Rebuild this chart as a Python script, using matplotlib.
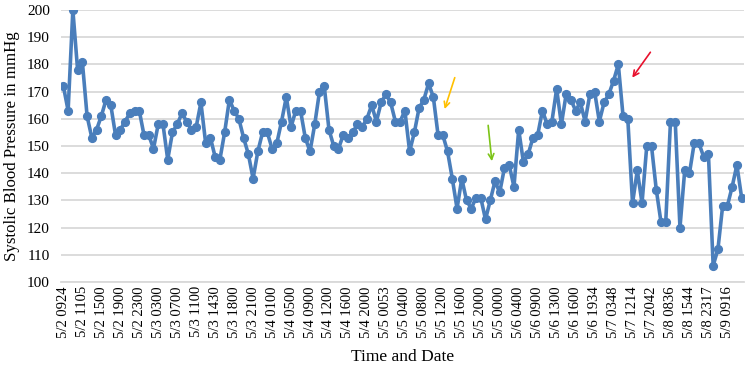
import matplotlib.pyplot as plt

presion = [
    172, 163, 200, 178, 181, 161, 153, 156, 161, 167, 165, 154,
    156, 159, 162, 163, 163, 154, 154, 149, 158, 158, 145, 155,
    158, 162, 159, 156, 157, 166, 151, 153, 146, 145, 155, 167,
    163, 160, 153, 147, 138, 148, 155, 155, 149, 151, 159, 168,
    157, 163, 163, 153, 148, 158, 170, 172, 156, 150, 149, 154,
    153, 155, 158, 157, 160, 165, 159, 166, 169, 166, 159, 159,
    163, 148, 155, 164, 167, 173, 168, 154, 154, 148, 138, 127,
    138, 130, 127, 131, 131, 123, 130, 137, 133, 142, 143, 135,
    156, 144, 147, 153, 154, 163, 158, 159, 171, 158, 169, 167,
    163, 166, 159, 169, 170, 159, 166, 169, 174, 180, 161, 160,
    129, 141, 129, 150, 150, 134, 122, 122, 159, 159, 120, 141,
    140, 151, 151, 146, 147, 106, 112, 128, 128, 135, 143, 131,
]

# one label every 4th reading
etiquetas = [
    "5/2 0924", "5/2 1105", "5/2 1500", "5/2 1900", "5/2 2300", "5/3 0300",
    "5/3 0700", "5/3 1100", "5/3 1430", "5/3 1800", "5/3 2100", "5/4 0100",
    "5/4 0500", "5/4 0900", "5/4 1200", "5/4 1600", "5/4 2000", "5/5 0053",
    "5/5 0400", "5/5 0800", "5/5 1200", "5/5 1600", "5/5 2000", "5/5 0000",
    "5/6 0400", "5/6 0900", "5/6 1300", "5/6 1600", "5/6 1934", "5/7 0348",
    "5/7 1214", "5/7 2042", "5/8 0836", "5/8 1544", "5/8 2317", "5/9 0916",
]
paso_etiqueta = 4

# hand-drawn arrows: (tail x, tail y, head x, head y, colour)
flechas = [
    (82.7, 176.1, 80.2, 162.6, "#ffc000"),
    (89.5, 158.6, 90.4, 143.4, "#7cc417"),
    (124.1, 185.3, 119.6, 174.3, "#e8112d"),
]

plt.rcParams['font.family'] = ['Liberation Serif', 'DejaVu Serif']

fig = plt.figure(figsize=(7.5, 3.66), dpi=100)
ax = fig.add_axes([61 / 750, 1 - 282 / 366, 683 / 750, 272 / 366])

x = list(range(len(presion)))
ax.plot(x, presion, color="#4a7ebb", linewidth=2.6, marker='o',
        markersize=5.6, zorder=3)

for x0, y0, x1, y1, c in flechas:
    ax.annotate("", xy=(x1, y1), xytext=(x0, y0),
                arrowprops=dict(arrowstyle="->", color=c, lw=1.2,
                                mutation_scale=10))

ax.set_xlim(-0.5, len(presion) - 0.5)
ax.set_ylim(100, 200)
ax.set_yticks(range(100, 201, 10))
ax.set_xticks(x[::paso_etiqueta])
ax.set_xticklabels(etiquetas, rotation=90)

ax.grid(True, axis='y', color="#d9d9d9", linewidth=1.3)
ax.set_axisbelow(True)
for lado in ["left", "right", "top"]:
    ax.spines[lado].set_visible(False)
ax.spines["bottom"].set_color("#d9d9d9")
ax.spines["bottom"].set_linewidth(1.3)

ax.tick_params(axis='y', length=0, pad=8, labelsize=11)
ax.tick_params(axis='x', length=0, pad=3, labelsize=10.5)

ax.set_ylabel("Systolic Blood Pressure in mmHg", fontsize=12.2, labelpad=5)
ax.set_xlabel("Time and Date", fontsize=12.5, labelpad=8)

fig.savefig("out.png", dpi=100)
plt.close(fig)
